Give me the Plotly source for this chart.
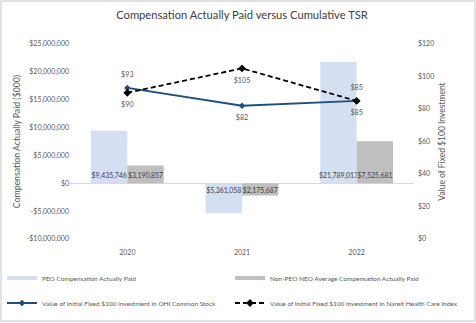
import plotly.graph_objects as go

years = ["2020", "2021", "2022"]
peo_cap = [9435746, -5361058, 21789017]
neo_cap = [3190857, -2175687, 7525681]
ohi_tsr = [93, 82, 85]
nareit_tsr = [90, 105, 85]

left_ticks = [25000000, 20000000, 15000000, 10000000, 5000000, 0, -5000000, -10000000]
right_ticks = [0, 20, 40, 60, 80, 100, 120]

FONT = "Lato"
TXT = "#595959"
PEO_COLOR = "#D5DFF2"
NEO_COLOR = "#BFBFBF"
OHI_COLOR = "#1F4E79"
NAREIT_COLOR = "#000000"

W, H = 476, 323
ML, MR, MT, MB = 70, 62, 44, 84
PW, PH = W - ML - MR, H - MT - MB


def money(v):
    return f"-${abs(v):,.0f}" if v < 0 else f"${v:,.0f}"


def px_x(px):
    return (px - ML) / PW


def px_y(py):
    return 1 - (py - MT) / PH


fig = go.Figure()

bar_series = [
    ("PEO Compensation Actually Paid", peo_cap, PEO_COLOR, "legend"),
    ("Non-PEO NEO Average Compensation Actually Paid", neo_cap, NEO_COLOR, "legend2"),
]
for name, vals, color, leg in bar_series:
    fig.add_trace(go.Bar(
        x=years, y=vals, name=name, marker=dict(color=color, line_width=0),
        text=[f"${abs(v):,.0f}" for v in vals],
        textposition="inside", insidetextanchor="start", constraintext="none",
        textangle=0,
        textfont=dict(family=FONT, size=6.9, color="#404040"),
        cliponaxis=False, showlegend=False, hoverinfo="skip",
    ))
    # flat legend swatch for the bar series
    fig.add_trace(go.Scatter(
        x=[None], y=[None], mode="lines", name=name,
        line=dict(color=color, width=4), legend=leg,
    ))

line_series = [
    ("Value of Initial Fixed $100 Investment in OHI Common Stock", ohi_tsr,
     dict(color=OHI_COLOR, width=1.8), 5, OHI_COLOR,
     ["top center", "bottom center", "bottom center"], "legend3"),
    ("Value of Initial Fixed $100 Investment in Nareit Health Care Index", nareit_tsr,
     dict(color=NAREIT_COLOR, width=1.8, dash="5px,3px"), 6, NAREIT_COLOR,
     ["bottom center", "bottom center", "top center"], "legend4"),
]
for name, vals, line, msize, mcolor, tpos, leg in line_series:
    fig.add_trace(go.Scatter(
        x=years, y=vals, yaxis="y2", mode="lines+markers", name=name,
        line=line, marker=dict(symbol="diamond", size=msize, color=mcolor),
        legend=leg,
    ))
    # value labels, set a little off the points
    fig.add_trace(go.Scatter(
        x=years, y=vals, yaxis="y2", mode="markers+text", showlegend=False,
        marker=dict(size=13, opacity=0), hoverinfo="skip",
        text=[f"${v}" for v in vals], textposition=tpos,
        textfont=dict(family=FONT, size=7.2, color=TXT),
    ))

legend_style = dict(orientation="h", xanchor="left", yanchor="middle",
                    font=dict(size=6.5, color=TXT), itemwidth=30,
                    bgcolor="rgba(0,0,0,0)")

fig.update_layout(
    width=W, height=H,
    margin=dict(l=ML, r=MR, t=MT, b=MB, autoexpand=False),
    paper_bgcolor="white", plot_bgcolor="white",
    font=dict(family=FONT, size=7, color=TXT),
    title=dict(text="Compensation Actually Paid versus Cumulative TSR",
               x=0.5, xref="paper", xanchor="center", y=0.953, yanchor="middle",
               font=dict(family=FONT, size=11.2, color="#404040")),
    barmode="group", bargap=0.365, bargroupgap=0,
    xaxis=dict(type="category", showgrid=False, showline=False, ticks="",
               tickfont=dict(size=7, color=TXT), ticklabelstandoff=8),
    yaxis=dict(range=[-10000000, 25000000], showgrid=False, showline=False,
               zeroline=True, zerolinecolor="#D9D9D9", zerolinewidth=1,
               tickvals=left_ticks, ticktext=[money(v) for v in left_ticks],
               tickfont=dict(size=7, color=TXT), automargin=False,
               title=dict(text="Compensation Actually Paid ($000)",
                          font=dict(size=8.7, color=TXT), standoff=4)),
    yaxis2=dict(range=[0, 120], overlaying="y", side="right", showgrid=False,
                zeroline=False, showline=False, automargin=False,
                tickvals=right_ticks, ticktext=[f"${v}" for v in right_ticks],
                tickfont=dict(size=7, color=TXT), ticklabelstandoff=3,
                title=dict(text="Value of Fixed $100 Investment",
                           font=dict(size=8.5, color=TXT), standoff=5)),
    legend=dict(x=px_x(2), y=px_y(278), **legend_style),
    legend2=dict(x=px_x(230), y=px_y(278), **legend_style),
    legend3=dict(x=px_x(2), y=px_y(303), **legend_style),
    legend4=dict(x=px_x(230), y=px_y(303), **legend_style),
    showlegend=True,
)

# light frame around the whole chart
fig.add_shape(type="rect", xref="paper", yref="paper", layer="below",
              x0=px_x(1), x1=px_x(W - 1), y0=px_y(H - 2), y1=px_y(1),
              line=dict(color="#D9D9D9", width=1.5), fillcolor="rgba(0,0,0,0)")

fig.write_html("out.html")
